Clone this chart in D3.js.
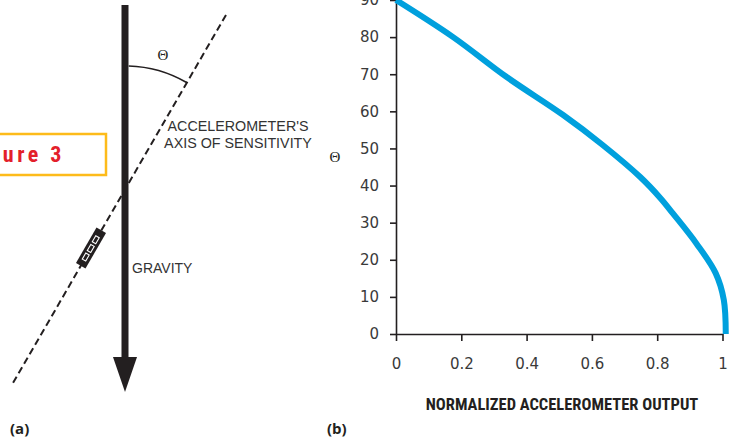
<!DOCTYPE html>
<html>
<head>
<meta charset="utf-8">
<script src="https://cdn.jsdelivr.net/npm/d3@7"></script>
<style>
  body { margin: 0; background: #fff; }
  svg { display: block; }
</style>
</head>
<body>
<div id="chart"></div>
<script>
// curve: normalized output vs theta (degrees)
const outputVals = [0, 0.175, 0.338, 0.512, 0.632, 0.748, 0.81, 0.848, 0.92, 0.979, 1.004, 1.01];
const thetaVals = [90, 80, 69.3, 59, 51, 42.3, 36.6, 32.5, 24.4, 16.4, 9.2, 0];
const xTicks = [0, 0.2, 0.4, 0.6, 0.8, 1];
const yTicks = [0, 10, 20, 30, 40, 50, 60, 70, 80, 90];

const W = 733, H = 440;
const ink = '#231f20';
const textCol = '#333';
const narrow = '"Liberation Sans Narrow", "Roboto Condensed", "Arial Narrow", sans-serif';
const plain = '"Liberation Sans", Arial, sans-serif';

const svg = d3.select('#chart').append('svg').attr('width', W).attr('height', H);

// ---------- panel (a): the diagram ----------
const diag = svg.append('g');

// figure tag (clipped at the left edge)
diag.append('rect')
  .attr('x', -6).attr('y', 134).attr('width', 112).attr('height', 41)
  .attr('fill', 'none').attr('stroke', '#fdbb1a').attr('stroke-width', 2.5);
diag.append('text')
  .attr('x', 65).attr('y', 162)
  .attr('text-anchor', 'end')
  .style('font-family', narrow).style('font-weight', 'bold').style('font-size', '22px')
  .style('letter-spacing', '3.5px')
  .attr('fill', '#e3202a')
  .text('Figure 3');

// dashed axis of sensitivity
const axA = [226, 15], axB = [13, 383];
diag.append('line')
  .attr('x1', axA[0]).attr('y1', axA[1]).attr('x2', axB[0]).attr('y2', axB[1])
  .attr('stroke', ink).attr('stroke-width', 2).attr('stroke-dasharray', '7,4');

// gravity arrow
const gx = 125;
diag.append('rect').attr('x', gx - 3.5).attr('y', 5).attr('width', 7).attr('height', 356).attr('fill', ink);
diag.append('path').attr('d', `M${gx - 12},357L${gx + 12},357L${gx},392Z`).attr('fill', ink);

// theta arc between gravity and sensing axis
const cross = [gx, 189];
const ang = Math.atan2(axA[1] - axB[1], axA[0] - axB[0]);
const arcP = d3.path();
arcP.arc(cross[0], cross[1], 123, -Math.PI / 2 + 0.03, ang, false);
diag.append('path').attr('d', arcP.toString()).attr('fill', 'none').attr('stroke', ink).attr('stroke-width', 1.6);
diag.append('text')
  .attr('x', 163).attr('y', 60).attr('text-anchor', 'middle')
  .style('font-family', '"Liberation Serif", "DejaVu Serif", serif').style('font-size', '15px')
  .attr('fill', ink).text('Θ');

// accelerometer package on the axis
const sensor = diag.append('g')
  .attr('transform', `translate(91,248) rotate(${(ang * 180) / Math.PI})`);
sensor.append('rect').attr('x', -20.5).attr('y', -5.5).attr('width', 41).attr('height', 11).attr('fill', ink);
[-14, -4, 6].forEach(o => {
  sensor.append('rect').attr('x', o).attr('y', -2).attr('width', 7).attr('height', 4)
    .attr('fill', ink).attr('stroke', '#fff').attr('stroke-width', 1.1);
});

// labels
diag.append('text')
  .attr('x', 238).attr('y', 131).attr('text-anchor', 'middle')
  .style('font-family', plain).style('font-size', '14.3px').attr('fill', textCol)
  .text("ACCELEROMETER'S");
diag.append('text')
  .attr('x', 238).attr('y', 148).attr('text-anchor', 'middle')
  .style('font-family', plain).style('font-size', '14.3px').attr('fill', textCol)
  .text('AXIS OF SENSITIVITY');
diag.append('text')
  .attr('x', 132).attr('y', 273)
  .style('font-family', plain).style('font-size', '14px').attr('fill', textCol)
  .text('GRAVITY');

// ---------- panel (b): the chart ----------
const x = d3.scaleLinear().domain([0, 1]).range([396, 722.5]);
const y = d3.scaleLinear().domain([0, 90]).range([334, 0]);

const tickFont = '"DejaVu Sans", "Open Sans", sans-serif';

const gy = svg.append('g').attr('transform', `translate(${x(0)},0)`)
  .call(d3.axisLeft(y).tickValues(yTicks).tickSize(6).tickSizeOuter(0).tickPadding(11));
const gxAxis = svg.append('g').attr('transform', `translate(0,${y(0)})`)
  .call(d3.axisBottom(x).tickValues(xTicks).tickSize(7).tickSizeOuter(0).tickPadding(17)
    .tickFormat(d3.format('~g')));

[gy, gxAxis].forEach(g => {
  g.selectAll('path, line').attr('stroke', ink).attr('stroke-width', 1.6);
  g.selectAll('text').style('font-family', tickFont).style('font-size', '15px').attr('fill', '#3a3a3a');
});

const pts = outputVals.map((v, i) => [v, thetaVals[i]]);
const line = d3.line().x(d => x(d[0])).y(d => y(d[1])).curve(d3.curveCatmullRom.alpha(0.5));
svg.append('path')
  .datum(pts)
  .attr('d', line)
  .attr('fill', 'none')
  .attr('stroke', '#00a0dd')
  .attr('stroke-width', 6)
  .attr('stroke-linecap', 'butt');

svg.append('text')
  .attr('x', 335).attr('y', 162).attr('text-anchor', 'middle')
  .style('font-family', '"Liberation Serif", "DejaVu Serif", serif').style('font-size', '15px')
  .attr('fill', ink).text('Θ');

svg.append('text')
  .attr('x', 562).attr('y', 410).attr('text-anchor', 'middle')
  .style('font-family', narrow).style('font-weight', 'bold').style('font-size', '16.5px')
  .attr('fill', ink).text('NORMALIZED ACCELEROMETER OUTPUT');

// panel letters
svg.append('text').attr('x', 10).attr('y', 434)
  .style('font-family', '"Open Sans", sans-serif').style('font-weight', 'bold').style('font-size', '15px')
  .attr('fill', ink).text('(a)');
svg.append('text').attr('x', 327).attr('y', 434)
  .style('font-family', '"Open Sans", sans-serif').style('font-weight', 'bold').style('font-size', '15px')
  .attr('fill', ink).text('(b)');
</script>
</body>
</html>
